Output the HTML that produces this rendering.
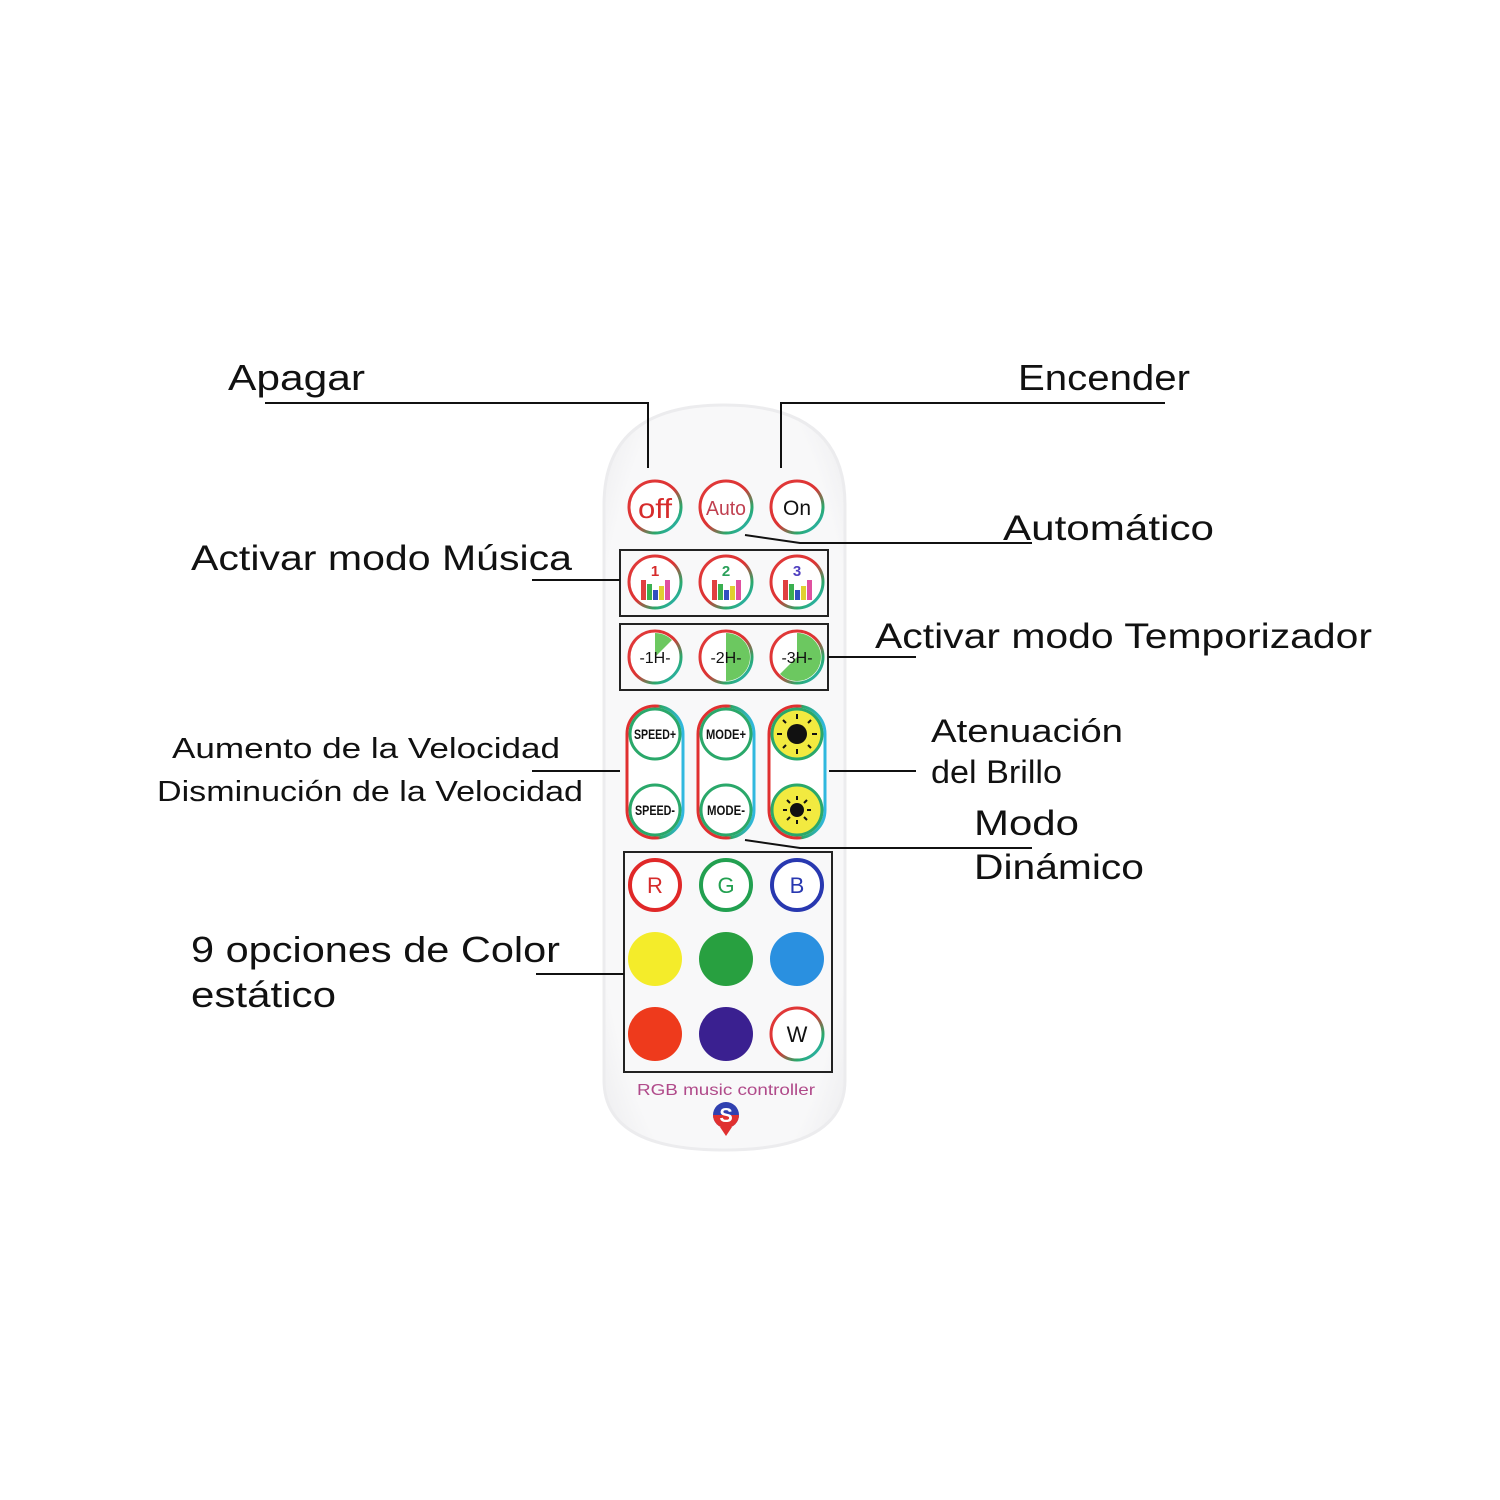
<!DOCTYPE html>
<html><head><meta charset="utf-8"><style>
html,body{margin:0;padding:0;background:#fff;}
svg{display:block}
text{font-family:"Liberation Sans",sans-serif;fill:#111;}
</style></head><body>
<svg width="1500" height="1500" viewBox="0 0 1500 1500" xmlns="http://www.w3.org/2000/svg">
<defs>
<linearGradient id="ring" x1="0" y1="0" x2="1" y2="1">
<stop offset="0" stop-color="#e23a3a"/><stop offset="0.5" stop-color="#d33"/><stop offset="0.75" stop-color="#2aa86a"/><stop offset="1" stop-color="#2ab8d8"/>
</linearGradient>
<linearGradient id="ring2" x1="0" y1="0" x2="1" y2="0">
<stop offset="0" stop-color="#e03030"/><stop offset="0.55" stop-color="#e03030"/><stop offset="0.6" stop-color="#2aa86a"/><stop offset="1" stop-color="#30b8e0"/>
</linearGradient>
<radialGradient id="body" cx="0.5" cy="0.5" r="0.7">
<stop offset="0.8" stop-color="#f8f8f9"/><stop offset="1" stop-color="#ececee"/>
</radialGradient>
</defs>

<!-- remote body -->
<path d="M604,505 Q604,405 724,405 Q845,405 845,505 L845,1080 Q845,1150 724,1150 Q604,1150 604,1080 Z" fill="url(#body)" stroke="#ececee" stroke-width="3"/>

<!-- row 1 -->
<g stroke="url(#ring)" stroke-width="3" fill="#fff">
<circle cx="655" cy="507" r="26"/><circle cx="726" cy="507" r="26"/><circle cx="797" cy="507" r="26"/>
<circle cx="655" cy="582" r="26"/><circle cx="726" cy="582" r="26"/><circle cx="797" cy="582" r="26"/>
<circle cx="655" cy="657" r="26"/><circle cx="726" cy="657" r="26"/><circle cx="797" cy="657" r="26"/>
<circle cx="797" cy="1034" r="26"/>
</g>
<text x="655" y="518" font-size="28" fill="#d62b2b" text-anchor="middle" style="fill:#d62b2b" textLength="34" lengthAdjust="spacingAndGlyphs">off</text>
<text x="726" y="515" font-size="20" text-anchor="middle" style="fill:#c04050" textLength="40" lengthAdjust="spacingAndGlyphs">Auto</text>
<text x="797" y="515" font-size="21" text-anchor="middle">On</text>

<!-- music icons -->
<g font-size="15" font-weight="bold" text-anchor="middle">
<text x="655" y="576" style="fill:#d62b2b">1</text>
<text x="726" y="576" style="fill:#2aa05a">2</text>
<text x="797" y="576" style="fill:#5040c0">3</text>
</g>
<g>
<rect x="641" y="580" width="5" height="20" fill="#e04040"/><rect x="647" y="584" width="5" height="16" fill="#3ab050"/><rect x="653" y="590" width="5" height="10" fill="#3050c0"/><rect x="659" y="586" width="5" height="14" fill="#e0d030"/><rect x="665" y="580" width="5" height="20" fill="#e050a0"/>
<rect x="712" y="580" width="5" height="20" fill="#e04040"/><rect x="718" y="584" width="5" height="16" fill="#3ab050"/><rect x="724" y="590" width="5" height="10" fill="#3050c0"/><rect x="730" y="586" width="5" height="14" fill="#e0d030"/><rect x="736" y="580" width="5" height="20" fill="#e050a0"/>
<rect x="783" y="580" width="5" height="20" fill="#e04040"/><rect x="789" y="584" width="5" height="16" fill="#3ab050"/><rect x="795" y="590" width="5" height="10" fill="#3050c0"/><rect x="801" y="586" width="5" height="14" fill="#e0d030"/><rect x="807" y="580" width="5" height="20" fill="#e050a0"/>
</g>

<!-- timer -->
<path d="M655,657 L655,633 A24,24 0 0 1 672,640 Z" fill="#6cc860"/>
<path d="M726,633 A24,24 0 0 1 726,681 Z" fill="#6cc860"/>
<path d="M797,657 L797,633 A24,24 0 1 1 780,674 Z" fill="#6cc860"/>
<g font-size="16" text-anchor="middle">
<text x="655" y="663">-1H-</text><text x="726" y="663">-2H-</text><text x="797" y="663">-3H-</text>
</g>

<!-- speed/mode/bright capsules -->
<g fill="#fff" stroke-width="3">
<rect x="627" y="706" width="56" height="132" rx="28" stroke="url(#ring2)"/>
<rect x="698" y="706" width="56" height="132" rx="28" stroke="url(#ring2)"/>
<rect x="769" y="706" width="56" height="132" rx="28" stroke="url(#ring2)"/>
</g>
<g stroke="#2aa86a" stroke-width="3" fill="#fff">
<circle cx="655" cy="734" r="25"/><circle cx="655" cy="810" r="25"/>
<circle cx="726" cy="734" r="25"/><circle cx="726" cy="810" r="25"/>
</g>
<g stroke="#2aa86a" stroke-width="3" fill="#f2ea40">
<circle cx="797" cy="734" r="25"/><circle cx="797" cy="810" r="25"/>
</g>
<circle cx="797" cy="734" r="10" fill="#111"/>
<circle cx="797" cy="810" r="7" fill="#111"/>
<g stroke="#111" stroke-width="2">
<line x1="797" y1="714" x2="797" y2="719"/><line x1="797" y1="749" x2="797" y2="754"/><line x1="777" y1="734" x2="782" y2="734"/><line x1="812" y1="734" x2="817" y2="734"/>
<line x1="783" y1="720" x2="786" y2="723"/><line x1="808" y1="745" x2="811" y2="748"/><line x1="811" y1="720" x2="808" y2="723"/><line x1="786" y1="745" x2="783" y2="748"/>
<line x1="797" y1="796" x2="797" y2="800"/><line x1="797" y1="820" x2="797" y2="824"/><line x1="783" y1="810" x2="787" y2="810"/><line x1="807" y1="810" x2="811" y2="810"/>
<line x1="787" y1="800" x2="790" y2="803"/><line x1="804" y1="817" x2="807" y2="820"/><line x1="807" y1="800" x2="804" y2="803"/><line x1="790" y1="817" x2="787" y2="820"/>
</g>
<g font-size="14" text-anchor="middle" font-weight="bold">
<text x="655" y="739" textLength="42" lengthAdjust="spacingAndGlyphs">SPEED+</text>
<text x="655" y="815" textLength="40" lengthAdjust="spacingAndGlyphs">SPEED-</text>
<text x="726" y="739" textLength="40" lengthAdjust="spacingAndGlyphs">MODE+</text>
<text x="726" y="815" textLength="38" lengthAdjust="spacingAndGlyphs">MODE-</text>
</g>

<!-- colors -->
<circle cx="655" cy="885" r="25" fill="#fff" stroke="#e02828" stroke-width="4"/>
<circle cx="726" cy="885" r="25" fill="#fff" stroke="#22a050" stroke-width="4"/>
<circle cx="797" cy="885" r="25" fill="#fff" stroke="#2838b0" stroke-width="4"/>
<g font-size="22" text-anchor="middle">
<text x="655" y="893" style="fill:#d62b2b">R</text>
<text x="726" y="893" style="fill:#22a050">G</text>
<text x="797" y="893" style="fill:#2838b0">B</text>
<text x="797" y="1042">W</text>
</g>
<circle cx="655" cy="959" r="27" fill="#f4ec2a"/>
<circle cx="726" cy="959" r="27" fill="#28a040"/>
<circle cx="797" cy="959" r="27" fill="#2a90e0"/>
<circle cx="655" cy="1034" r="27" fill="#ee3a1c"/>
<circle cx="726" cy="1034" r="27" fill="#3a2090"/>

<text x="726" y="1095" font-size="16" text-anchor="middle" style="fill:#b04a8a" textLength="178" lengthAdjust="spacingAndGlyphs">RGB music controller</text>
<circle cx="726" cy="1115" r="13" fill="#3040b0"/>
<path d="M713,1115 A13,13 0 0 0 739,1115 Z" fill="#e03030"/>
<text x="726" y="1122" font-size="20" font-weight="bold" text-anchor="middle" style="fill:#fff">S</text>
<path d="M720,1127 L732,1127 L726,1136 Z" fill="#e03030"/>

<!-- boxes -->
<g fill="none" stroke="#222" stroke-width="2">
<rect x="620" y="550" width="208" height="66"/>
<rect x="620" y="624" width="208" height="66"/>
<rect x="624" y="852" width="208" height="220"/>
</g>

<!-- leader lines -->
<g fill="none" stroke="#111" stroke-width="2">
<polyline points="265,403 648,403 648,468"/>
<polyline points="1165,403 781,403 781,468"/>
<polyline points="745,535 800,543 1032,543"/>
<line x1="532" y1="580" x2="620" y2="580"/>
<line x1="828" y1="657" x2="916" y2="657"/>
<line x1="532" y1="771" x2="620" y2="771"/>
<line x1="829" y1="771" x2="916" y2="771"/>
<polyline points="745,840 800,848 1032,848"/>
<line x1="536" y1="974" x2="624" y2="974"/>
</g>

<!-- labels -->
<text x="228" y="390" font-size="36" textLength="137" lengthAdjust="spacingAndGlyphs">Apagar</text>
<text x="1018" y="390" font-size="36" textLength="172" lengthAdjust="spacingAndGlyphs">Encender</text>
<text x="191" y="570" font-size="35" textLength="381" lengthAdjust="spacingAndGlyphs">Activar modo Música</text>
<text x="1003" y="540" font-size="35" textLength="211" lengthAdjust="spacingAndGlyphs">Automático</text>
<text x="875" y="648" font-size="35" textLength="497" lengthAdjust="spacingAndGlyphs">Activar modo Temporizador</text>
<text x="172" y="758" font-size="29" textLength="388" lengthAdjust="spacingAndGlyphs">Aumento de la Velocidad</text>
<text x="157" y="801" font-size="29" textLength="426" lengthAdjust="spacingAndGlyphs">Disminución de la Velocidad</text>
<text x="931" y="742" font-size="32" textLength="192" lengthAdjust="spacingAndGlyphs">Atenuación</text>
<text x="931" y="783" font-size="32" textLength="131" lengthAdjust="spacingAndGlyphs">del Brillo</text>
<text x="974" y="835" font-size="35" textLength="105" lengthAdjust="spacingAndGlyphs">Modo</text>
<text x="974" y="879" font-size="35" textLength="170" lengthAdjust="spacingAndGlyphs">Dinámico</text>
<text x="191" y="962" font-size="36" textLength="369" lengthAdjust="spacingAndGlyphs">9 opciones de Color</text>
<text x="191" y="1007" font-size="36" textLength="145" lengthAdjust="spacingAndGlyphs">estático</text>
</svg>
</body></html>
